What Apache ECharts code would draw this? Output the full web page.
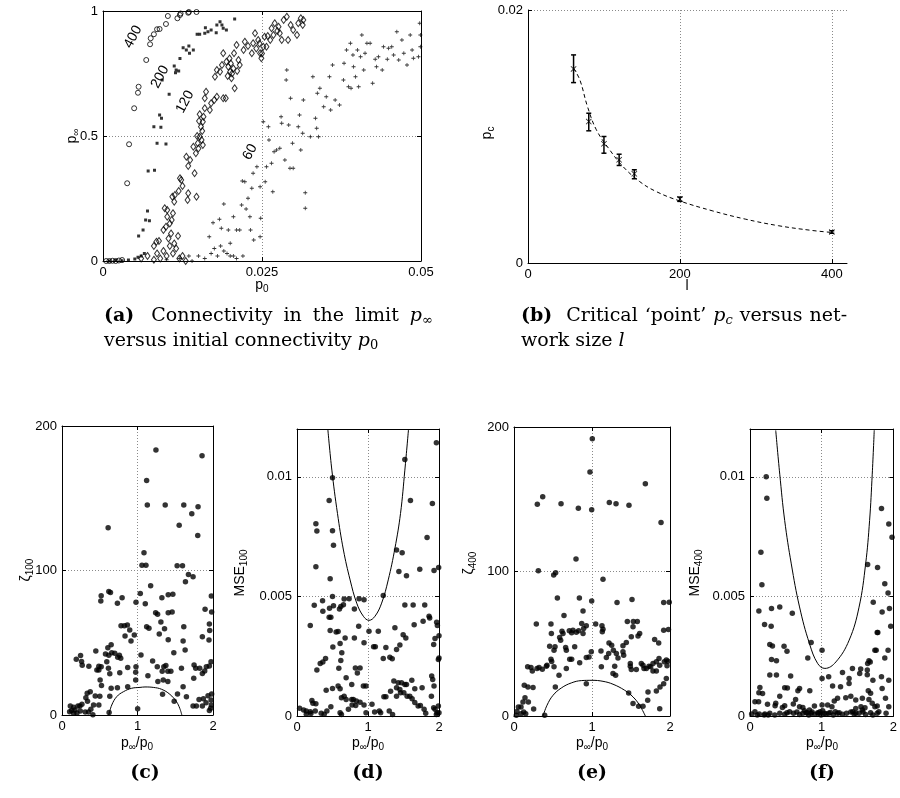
<!DOCTYPE html>
<html><head><meta charset="utf-8">
<script src="https://cdn.jsdelivr.net/npm/echarts@6/dist/echarts.min.js"></script>
<style>html,body{margin:0;padding:0;background:#fff}#c{width:900px;height:798px}</style>
</head><body><div id="c"></div>
<script>
// ---------- data (a): p_inf versus p0 for four network sizes ----------
const a400 = [[0.0005,0],[0.001,0],[0.0015,0.001],[0.002,0],[0.0025,0.002],[0.003,0.004],
[0.0038,0.311],[0.0041,0.467],[0.0049,0.611],[0.0055,0.673],[0.0056,0.697],[0.0068,0.804],[0.0074,0.867],[0.0075,0.891],[0.0080,0.907],[0.0085,0.927],[0.0089,0.928],[0.0099,0.948],[0.0102,0.98],[0.0117,0.971],[0.0121,0.984],[0.0122,0.99],[0.0134,0.993],[0.0135,0.996],[0.0147,0.996]];
const a200 = [[0.001,0],[0.002,0.002],[0.003,0.001],[0.004,0.004],[0.005,0.008],[0.0055,0.015],[0.006,0.02],[0.0065,0.03],
[0.0056,0.1],[0.0063,0.124],[0.0067,0.164],[0.0073,0.161],[0.0070,0.2],[0.0071,0.36],[0.0081,0.363],[0.0085,0.471],[0.0099,0.468],[0.0080,0.537],[0.0091,0.535],[0.0089,0.584],[0.0092,0.571],[0.0104,0.667],[0.0093,0.724],[0.0112,0.78],[0.0115,0.764],[0.0114,0.753],[0.0119,0.76],[0.0121,0.81],[0.0126,0.853],[0.0131,0.844],[0.0135,0.86],[0.0136,0.831],[0.0142,0.844],[0.0148,0.907],[0.0152,0.907],[0.016,0.911],[0.0161,0.933],[0.0165,0.917],[0.0170,0.924],[0.0178,0.913],[0.0179,0.944],[0.0184,0.957],[0.0187,0.944],[0.0189,0.931],[0.0194,0.924],[0.0207,0.968]];
const a120 = [[0.006,0.01],[0.007,0.02],[0.008,0.005],[0.0085,0.03],[0.009,0.01],[0.0095,0.04],[0.010,0.02],[0.0105,0.06],[0.011,0.03],[0.0115,0.05],[0.012,0.01],[0.0125,0.02],[0.013,0],[0.008,0.06],[0.0088,0.08],
[0.0084,0.077],[0.0095,0.124],[0.0099,0.137],[0.0101,0.177],[0.0097,0.211],[0.0101,0.204],[0.0108,0.164],[0.0110,0.191],[0.0112,0.237],[0.0113,0.264],[0.0109,0.257],[0.0121,0.331],[0.0123,0.324],[0.0131,0.417],[0.0137,0.404],[0.0134,0.38],[0.0134,0.271],[0.0133,0.244],[0.0144,0.351],[0.0147,0.257],[0.0142,0.457],[0.0146,0.431],[0.0149,0.471],[0.0152,0.497],[0.0155,0.484],[0.0157,0.464],[0.0154,0.537],[0.0157,0.557],[0.0158,0.577],[0.0152,0.587],[0.016,0.611],[0.0168,0.604],[0.017,0.631],[0.016,0.651],[0.0162,0.677],[0.0175,0.644],[0.0179,0.657],[0.0189,0.651],[0.0193,0.651],[0.0176,0.737],[0.0179,0.764],[0.0184,0.757],[0.0187,0.784],[0.0189,0.831],[0.0194,0.797],[0.0197,0.777],[0.02,0.757],[0.0202,0.731],[0.0207,0.691],[0.0206,0.831],[0.0213,0.804],[0.0215,0.784],[0.0221,0.844],[0.021,0.864],[0.0223,0.877],[0.0234,0.831],[0.0236,0.871],[0.0239,0.911],[0.0244,0.884],[0.0247,0.831],[0.0249,0.811],[0.0252,0.857],[0.0254,0.897],[0.0257,0.857],[0.0263,0.884],[0.0265,0.931],[0.027,0.951],[0.0276,0.937],[0.0278,0.911],[0.0284,0.964],[0.0289,0.977],[0.0291,0.884],[0.0295,0.944],[0.0299,0.924],[0.0305,0.904],[0.0307,0.951],[0.0311,0.971],[0.0315,0.964],[0.0314,0.944],[0.0281,0.884],[0.0268,0.904],
[0.0105,0.15],[0.0107,0.11],[0.0103,0.09],[0.0112,0.07],[0.0118,0.1],[0.0119,0.28],[0.0125,0.3],[0.0148,0.5],[0.015,0.45],[0.0156,0.52],[0.0151,0.56],[0.0196,0.74],[0.0201,0.79],[0.0199,0.81],[0.0205,0.77],[0.0203,0.75],[0.0211,0.76],[0.0228,0.86],[0.0241,0.85],[0.0246,0.87],[0.025,0.83],[0.0259,0.9],[0.0274,0.92]];
const a60 = [[0.01,0.005],[0.012,0.01],[0.014,0],[0.015,0.02],[0.016,0.01],[0.017,0.03],[0.018,0.02],[0.019,0.04],[0.02,0.02],[0.021,0.01],[0.0135,0.02],[0.0175,0.05],[0.0185,0.06],[0.0195,0.03],[0.0205,0.02],[0.022,0.02],
[0.0167,0.097],[0.0173,0.153],[0.0183,0.167],[0.0186,0.131],[0.019,0.228],[0.0197,0.124],[0.02,0.071],[0.0205,0.177],[0.021,0.124],[0.0215,0.124],[0.0218,0.224],[0.0219,0.32],[0.0223,0.317],[0.0225,0.208],[0.0228,0.251],[0.0231,0.177],[0.0232,0.124],[0.0234,0.291],[0.0236,0.351],[0.0237,0.084],[0.0242,0.377],[0.0247,0.297],[0.0248,0.171],[0.0247,0.097],[0.0252,0.557],[0.0255,0.317],[0.0257,0.377],[0.026,0.537],[0.0261,0.484],[0.0265,0.391],[0.0267,0.277],[0.0269,0.437],[0.0273,0.444],[0.0278,0.451],[0.028,0.577],[0.0281,0.551],[0.0286,0.404],[0.0288,0.724],[0.0289,0.764],[0.0292,0.544],[0.0294,0.371],[0.0295,0.651],[0.0298,0.471],[0.0299,0.371],[0.0307,0.537],[0.0309,0.584],[0.0311,0.444],[0.0314,0.511],[0.0318,0.273],[0.0318,0.211],[0.0315,0.644],[0.0326,0.497],[0.033,0.737],[0.0334,0.571],[0.0336,0.531],[0.0339,0.497],[0.0337,0.671],[0.0341,0.691],[0.0347,0.617],[0.0351,0.657],[0.0356,0.737],[0.0358,0.604],[0.0361,0.784],[0.0365,0.644],[0.0372,0.624],[0.0378,0.724],[0.0379,0.791],[0.0383,0.844],[0.0386,0.697],[0.0389,0.871],[0.039,0.691],[0.0393,0.824],[0.0394,0.777],[0.0397,0.737],[0.04,0.844],[0.0402,0.697],[0.0405,0.817],[0.0407,0.904],[0.041,0.764],[0.0412,0.831],[0.0415,0.871],[0.042,0.871],[0.0424,0.711],[0.0428,0.807],[0.043,0.777],[0.0433,0.817],[0.0439,0.764],[0.0441,0.857],[0.0447,0.807],[0.0449,0.851],[0.0454,0.857],[0.0457,0.824],[0.0462,0.917],[0.0465,0.804],[0.047,0.884],[0.0473,0.831],[0.0478,0.784],[0.0483,0.904],[0.0486,0.844],[0.0488,0.811],[0.0496,0.817],[0.0498,0.951],[0.0499,0.904],[0.0499,0.857]];
const aCurveLabels = ['400','200','120','60'];

// ---------- data (b): critical point versus network size ----------
const bSizes = [60, 80, 100, 120, 140, 200, 400];
const bPc    = [0.01534, 0.01118, 0.00942, 0.00816, 0.00705, 0.00505, 0.00245];
const bLow   = [0.01426, 0.01045, 0.00868, 0.00771, 0.00666, 0.00487, 0.00235];
const bHigh  = [0.01645, 0.01184, 0.01000, 0.00860, 0.00737, 0.00521, 0.00255];
const bFitX  = [60, 68.3, 78.3, 90, 107.5, 125, 146.7, 168.4, 199, 242.4, 286, 329.5, 373, 399];
const bFitY  = [0.01540, 0.01447, 0.01237, 0.01053, 0.00895, 0.00763, 0.00645, 0.00566, 0.00492, 0.00413, 0.00347, 0.00295, 0.00258, 0.00242];

// ---------- data (c) zeta_100 ----------
const cPts = [[1.244,183.4],[1.121,162.2],[1.855,179.4],[0.611,129.6],[1.13,145.3],[1.367,145.3],[1.613,145.3],[1.802,144.2],[1.719,139.3],[1.552,131.3],[1.798,124.3],[1.086,112.3],[1.059,103.6],[1.112,103.6],[1.525,103.3],[1.596,103.3],[1.675,97.3],[1.736,95.7],[1.635,92.3],[1.174,89.5],[0.519,82.6],[0.514,78.9],[0.62,85.4],[0.642,84.7],[0.796,81.2],[0.734,77.3],[0.98,78],[1.037,84],[1.103,77],[1.323,81.2],[1.407,83.3],[1.468,83.5],[1.978,82.4],[1.895,73.1],[1.982,71.3],[1.24,70.8],[1.266,69.7],[1.31,64.4],[1.288,56.1],[1.358,59.7],[1.121,61.1],[1.152,60],[1.407,70.8],[1.459,71.3],[1.613,61.1],[1.952,63],[1.956,58.4],[1.947,51.9],[1.859,54.2],[1.407,52.1],[1.604,51.2],[1.631,45],[1.481,43.1],[0.866,62.3],[0.897,58.8],[0.835,54.7],[0.914,51.2],[0.958,55.4],[0.782,61.8],[0.826,61.8],[0.651,48.7],[0.607,46.6],[0.659,43.1],[0.699,42.7],[0.738,39.9],[0.778,39.2],[0.76,41.3],[0.576,42.2],[0.62,41.3],[0.593,36.9],[0.448,44.3],[0.189,38.5],[0.246,41.1],[0.259,37.1],[0.268,34.4],[0.356,33.7],[0.488,33.7],[0.488,31.1],[0.519,33.4],[0.462,31.1],[0.505,24.2],[0.523,20.5],[0.615,32.3],[0.633,28.6],[0.87,32.8],[0.765,29.3],[0.98,33.4],[0.976,29.5],[0.976,24.2],[1.046,41.5],[1.138,27.2],[1.2,37.4],[1.262,33.4],[1.349,33.4],[1.376,34.3],[1.327,30.2],[1.402,30.2],[1.442,30.2],[1.341,24.2],[1.27,23.1],[1.402,23.1],[1.582,32.3],[1.749,34.6],[1.771,32.3],[1.824,32.3],[1.859,28.8],[1.912,33.4],[1.952,33.9],[1.974,36.9],[1.89,30.4],[1.745,25.4],[0.87,19.6],[0.734,18.9],[0.651,18.5],[0.633,12.9],[0.334,15],[0.374,16.1],[0.316,12],[0.338,9.5],[0.501,12.9],[0.44,13.1],[0.488,6.9],[0.624,1.8],[0.418,6.9],[0.154,5.3],[0.11,6.2],[0.127,3.2],[0.101,2.3],[0.171,3.5],[0.211,6.2],[0.237,6.2],[0.264,7.4],[0.242,2.8],[0.198,1.4],[0.308,2.1],[0.352,2.1],[0.382,3.9],[0.409,0.2],[0.154,1.2],[1.002,4.4],[1.332,14.3],[1.486,9.5],[1.53,14.5],[1.648,12.7],[1.815,10.8],[1.873,11.3],[1.934,13.4],[1.908,8.5],[1.978,6.9],[1.952,3.2],[1.969,4.6],[1.736,6.2],[1.78,6.2],[1.859,6.2],[1.974,10.4],[1.982,14.5],[1.604,19.6]];
const cArc = [[0.62,0],[0.659,6.9],[0.725,12.7],[0.813,16.1],[0.923,18.5],[1.033,19.1],[1.099,19.4],[1.209,19.1],[1.319,17.8],[1.429,14.3],[1.516,9.2],[1.56,4.6],[1.587,0]];

// ---------- data (d) MSE_100 ----------
const dPts = [[1.963,0.01142],[1.519,0.01072],[0.5,0.00996],[0.453,0.00901],[1.598,0.00901],[1.907,0.00889],[0.266,0.00804],[0.28,0.00774],[0.5,0.00775],[0.514,0.00714],[1.832,0.00746],[1.402,0.00694],[1.481,0.00683],[0.266,0.00624],[1.435,0.00604],[1.542,0.00586],[1.729,0.00614],[1.93,0.00608],[1.995,0.00621],[0.467,0.00574],[1.215,0.00504],[0.243,0.00463],[0.36,0.00482],[0.364,0.00438],[0.5,0.005],[0.514,0.00461],[0.458,0.00451],[0.598,0.00447],[0.617,0.00458],[0.664,0.00489],[0.734,0.0049],[0.654,0.00465],[0.808,0.00447],[0.874,0.0049],[0.944,0.00486],[0.187,0.00378],[0.453,0.00413],[0.477,0.00413],[0.467,0.00357],[0.551,0.00351],[0.579,0.00353],[0.607,0.00303],[0.678,0.00326],[0.505,0.00288],[0.808,0.00326],[0.869,0.00375],[0.944,0.00306],[1.014,0.00354],[1.145,0.00354],[1.079,0.0029],[1.103,0.0029],[1.252,0.00286],[1.379,0.00369],[1.519,0.00464],[1.636,0.00464],[1.799,0.00464],[1.65,0.00382],[1.776,0.00396],[1.86,0.00417],[1.869,0.0041],[1.967,0.00392],[1.977,0.00378],[1.533,0.00326],[1.495,0.0034],[1.449,0.00297],[1.402,0.00278],[1.925,0.00299],[1.944,0.00324],[2.0,0.00336],[1.308,0.00246],[1.341,0.00239],[1.215,0.0024],[0.28,0.00192],[0.327,0.00219],[0.364,0.00226],[0.402,0.0024],[0.5,0.00115],[0.589,0.002],[0.617,0.00232],[0.692,0.0016],[0.771,0.00132],[0.822,0.00201],[0.888,0.00201],[0.85,0.0018],[0.935,0.00125],[0.972,0.00125],[0.631,0.00264],[0.411,0.00108],[0.579,0.00125],[0.607,0.00114],[0.626,0.00076],[0.664,0.00083],[0.692,0.00069],[0.771,0.00069],[0.794,0.00069],[0.836,0.00063],[0.888,0.00058],[0.776,0.00046],[0.827,0.00044],[0.944,0.00046],[1.056,0.00049],[1.224,0.00081],[1.252,0.00081],[1.318,0.00104],[1.364,0.00146],[1.425,0.00139],[1.472,0.00139],[1.519,0.00132],[1.542,0.00132],[1.402,0.00118],[1.449,0.00111],[1.617,0.00149],[1.762,0.00118],[1.659,0.00114],[1.897,0.00167],[1.911,0.00153],[1.93,0.00125],[2.0,0.00243],[1.991,0.00236],[0.21,0.00065],[0.266,0.00051],[0.224,0.00053],[0.037,0.00032],[0.093,0.00025],[0.131,0.00021],[0.187,0.00018],[0.257,0.00021],[0.131,0.00007],[0.196,0.0001],[0.341,0.00011],[0.383,0.00007],[0.421,0.00021],[0.477,0.00039],[0.607,0.00014],[0.626,0.00006],[0.724,0.00028],[1.093,0.00017],[1.159,0.00021],[1.178,0.00014],[1.299,0.00021],[1.346,0.00006],[1.402,0.00083],[1.458,0.00097],[1.505,0.00097],[1.551,0.00083],[1.589,0.00083],[1.621,0.00072],[1.659,0.00056],[1.706,0.00042],[1.738,0.00044],[1.79,0.00028],[1.813,0.00011],[1.893,0.00083],[1.925,0.00035],[1.944,0.00028],[1.972,0.00014],[1.991,0.00042],[2.0,0.00014],[1.963,0.00006],[0.972,0.00014]];
const dCurve = [[0.435,0.01197],[0.491,0.01028],[0.57,0.00847],[0.654,0.00694],[0.748,0.00569],[0.841,0.00472],[0.935,0.00417],[1.014,0.004],[1.098,0.00417],[1.192,0.00472],[1.285,0.00569],[1.379,0.00701],[1.458,0.00847],[1.519,0.01028],[1.57,0.01197]];

// ---------- data (e) zeta_400 ----------
const ePts = [[1.004,191.9],[0.974,168.8],[1.684,160.7],[0.368,151.7],[0.299,146.6],[0.603,146.8],[0.825,143.8],[0.996,142.7],[1.222,147.7],[1.308,146.8],[1.474,145.9],[1.885,133.9],[0.795,108.7],[0.312,100.6],[0.509,97.6],[0.534,99.2],[1.141,94.6],[0.556,81.6],[0.838,81.6],[0.996,79.5],[1.321,78.6],[1.513,80.7],[1.919,78.6],[1.99,78.8],[1.98,59.8],[0.286,63.6],[0.474,63.6],[0.479,57.1],[0.641,69.6],[0.615,58.7],[0.628,57.1],[0.598,52.5],[0.585,54.3],[0.709,59],[0.739,57.6],[0.756,59.4],[0.799,58],[0.829,59],[0.868,64],[0.885,72.6],[0.893,60.6],[0.885,57.1],[0.927,62.4],[1.047,63.6],[1.128,62.4],[1.141,60.1],[1.132,58.3],[1.453,65.4],[1.53,65.4],[1.581,65.4],[1.526,61.7],[1.611,57.1],[1.59,55.3],[1.504,54.8],[1.44,50.9],[1.397,48.6],[1.218,50.6],[1.252,49],[1.274,45.5],[1.312,43.2],[1.115,44.9],[0.991,44.4],[0.962,40.9],[0.927,40.5],[0.778,47.9],[0.842,36.8],[0.671,45.5],[0.662,47.4],[0.526,47.9],[0.513,45.5],[0.457,48.3],[0.474,39.3],[0.483,37.7],[0.423,35.1],[0.415,34.4],[0.363,32.4],[0.295,32.8],[0.321,33.5],[0.235,31.2],[0.175,34],[0.218,33.5],[0.513,34],[0.577,28.2],[0.671,32.8],[0.714,39.3],[0.739,39.3],[0.53,20.1],[0.927,22.4],[1.12,34],[1.184,40.5],[1.214,43.2],[1.291,34.5],[1.303,28.2],[1.269,29.4],[1.333,40.2],[1.397,44.4],[1.406,42.1],[1.491,36.3],[1.491,34.5],[1.504,32.1],[1.568,32.1],[1.632,36.3],[1.654,35.1],[1.667,32.8],[1.697,32.8],[1.731,34.4],[1.752,34],[1.782,36.3],[1.825,37.5],[1.859,39.8],[1.782,31.2],[1.825,31.2],[1.868,35.1],[1.927,37.5],[1.974,37.9],[1.803,52.9],[1.855,50.6],[1.919,59.4],[1.953,38.8],[1.953,25.9],[1.919,22.4],[1.962,34.7],[1.825,17.3],[1.872,20.1],[1.714,10.9],[1.654,6.7],[1.598,6.7],[1.526,8.6],[1.718,16.6],[1.47,16],[1.868,5.1],[0.132,21.3],[0.179,20.1],[0.244,19.7],[0.141,12.7],[0.184,9.7],[0.115,9.7],[0.09,6.2],[0.056,6.2],[0.038,3.2],[0.09,1.6],[0.15,1.6],[0.03,0.5],[0.124,2.8],[0.252,4.9],[0.393,0.5]];
const eArc = [[0.372,0],[0.423,7.4],[0.5,14.3],[0.607,19.4],[0.735,22.9],[0.863,24.5],[1.0,24.7],[1.141,24],[1.269,22],[1.419,17.8],[1.526,13.2],[1.611,7.4],[1.684,0]];

// ---------- data (f) MSE_400 ----------
const fPts = [[0.226,0.01],[0.235,0.0091],[0.152,0.00685],[0.166,0.00549],[0.124,0.00439],[0.3,0.00449],[0.415,0.00456],[0.203,0.00383],[0.295,0.00375],[0.59,0.0043],[0.276,0.00299],[0.313,0.00293],[0.475,0.00292],[0.516,0.00271],[0.853,0.00307],[0.806,0.00243],[1.005,0.00275],[0.3,0.00236],[0.369,0.00231],[0.276,0.00171],[0.369,0.00171],[0.567,0.00167],[0.138,0.00119],[0.124,0.00097],[0.175,0.00094],[0.484,0.00118],[0.521,0.00117],[0.668,0.00106],[0.691,0.00115],[0.834,0.00106],[0.415,0.00083],[0.359,0.00053],[0.35,0.00043],[0.244,0.00049],[0.069,0.0006],[0.12,0.0006],[0.069,0.00018],[0.129,0.00008],[0.207,0.00008],[0.253,0.00004],[0.484,0.00043],[0.452,0.00036],[0.604,0.0005],[0.636,0.00069],[0.553,0.00018],[0.516,0.00014],[0.691,0.00039],[0.737,0.00036],[0.76,0.00022],[0.797,0.00014],[0.829,0.00025],[0.853,0.00011],[0.899,0.00042],[1.005,0.00046],[0.954,0.00011],[0.977,0.00018],[1.014,0.00022],[1.037,0.00011],[1.005,0.00157],[1.097,0.00164],[1.152,0.00125],[1.083,0.00046],[1.143,0.00039],[1.175,0.00063],[1.221,0.00074],[1.097,0.00011],[1.189,0.00018],[1.244,0.00014],[1.263,0.00122],[1.29,0.00182],[1.336,0.00076],[1.406,0.00083],[1.382,0.00157],[1.382,0.00136],[1.433,0.00018],[1.475,0.00031],[1.429,0.00199],[1.53,0.00178],[1.544,0.00197],[1.475,0.00067],[1.548,0.00039],[1.567,0.00025],[1.604,0.00035],[1.641,0.00219],[1.659,0.00231],[1.636,0.00172],[1.65,0.00106],[1.641,0.00633],[1.779,0.00621],[1.719,0.00476],[1.774,0.00349],[1.742,0.00275],[1.714,0.0015],[1.659,0.00069],[1.705,0.00053],[1.774,0.00042],[1.475,0.00011],
[1.834,0.00868],[1.936,0.00803],[1.981,0.00747],[1.88,0.00553],[1.926,0.00514],[1.843,0.00435],[1.945,0.00449],[1.963,0.00375],[1.783,0.00349],[1.926,0.00275],[1.88,0.00243],[1.76,0.00275],[1.677,0.00226],[1.636,0.00192],[1.834,0.00164],[1.936,0.0015],[1.89,0.00074],[1.843,0.00115],[1.936,0.00039],[1.797,0.00018],[1.898,0.00011],[1.742,0.00039],[1.682,0.00095],[1.567,0.00074],
[0.023,0.00008],[0.101,0.00004],[0.198,0.00004],[0.276,0.00011],[0.346,0.00004],[0.415,0.00011],[0.484,0.00007],[0.608,0.00011],[0.654,0.00017],[0.691,0.00006],[0.737,0.00011],[0.783,0.00014],[0.82,0.00004],[0.866,0.00017],[0.903,0.00007],[0.945,0.00014],[0.991,0.00004],[1.06,0.00008],[1.12,0.00015],[1.161,0.00004],[1.221,0.00011],[1.29,0.00007],[1.346,0.00011],[1.406,0.00017],[1.452,0.00008],[1.521,0.00011],[1.576,0.00017],[1.613,0.00006],[1.682,0.00014],[1.714,0.00004],[1.774,0.00011]];
const fCurve = [[0.359,0.01194],[0.415,0.01011],[0.484,0.00817],[0.576,0.00636],[0.691,0.00456],[0.829,0.00303],[0.945,0.00219],[1.045,0.00199],[1.198,0.00226],[1.383,0.00317],[1.521,0.00455],[1.613,0.00636],[1.668,0.00817],[1.705,0.01011],[1.733,0.01195]];

// ---------- build ----------
const SANS = 'Liberation Sans';
const SERIF = 'DejaVu Serif';
const grids = [], xAxes = [], yAxes = [];
function axis(gi, pos, r, main, extra) {
  const a = {
    type: 'value', gridIndex: gi, position: pos, min: r[0], max: r[1], interval: r[2],
    axisLine: { show: true, onZero: false, lineStyle: { color: '#000', width: 1 } },
    axisTick: { show: true, inside: true, length: 4, lineStyle: { color: '#000', width: 1 } },
    axisLabel: { show: main, color: '#000', fontFamily: SANS, fontSize: 13, margin: 5 },
    splitLine: { show: main, lineStyle: { color: '#8a8a8a', width: 1, type: [1, 2] } }
  };
  if (extra) {
    if (extra.label) Object.assign(a.axisLabel, extra.label);
    if (extra.split) Object.assign(a.splitLine, extra.split);
  }
  return a;
}
function panel(g, xr, yr, box, ex, ey) {
  const gi = grids.length; grids.push(Object.assign({ containLabel: false }, g));
  const xi = xAxes.length; xAxes.push(axis(gi, 'bottom', xr, true, ex));
  const yi = yAxes.length; yAxes.push(axis(gi, 'left', yr, true, ey));
  if (box) { xAxes.push(axis(gi, 'top', xr, false)); yAxes.push(axis(gi, 'right', yr, false)); }
  return { xi, yi };
}
const PA = panel({ left: 103, top: 11, width: 318, height: 250 }, [0, 0.05, 0.025], [0, 1, 0.5], true);
const PB = panel({ left: 528, top: 10, width: 319, height: 253 }, [0, 420, 200], [0, 0.02, 0.02], false,
  { label: { showMaxLabel: false }, split: { showMaxLine: false } });
const PC = panel({ left: 62, top: 426, width: 151, height: 289 }, [0, 2, 1], [0, 200, 100], true);
const PD = panel({ left: 297, top: 429, width: 142, height: 287 }, [0, 2, 1], [0, 0.012, 0.005], true, null,
  { label: { showMaxLabel: false } });
const PE = panel({ left: 514, top: 427, width: 156, height: 289 }, [0, 2, 1], [0, 200, 100], true);
const PF = panel({ left: 750, top: 429, width: 144, height: 287 }, [0, 2, 1], [0, 0.012, 0.005], true, null,
  { label: { showMaxLabel: false } });

const hollow = { color: 'rgba(0,0,0,0)', borderColor: '#000', borderWidth: 1 };
const plusSym = 'path://M4,0H6V4H10V6H6V10H4V6H0V4H4Z';
const xSym = 'path://M1,0L5,4L9,0L10,1L6,5L10,9L9,10L5,6L1,10L0,9L4,5L0,1Z';
function dots(P, data) {
  return { type: 'scatter', xAxisIndex: P.xi, yAxisIndex: P.yi, data: data, symbol: 'circle', symbolSize: 5.5,
    itemStyle: { color: '#000' }, silent: true, animation: false };
}
function curve(P, data, extra) {
  return Object.assign({ type: 'line', xAxisIndex: P.xi, yAxisIndex: P.yi, data: data, smooth: 0.4, showSymbol: false,
    symbol: 'none', lineStyle: { color: '#000', width: 1 }, silent: true, animation: false }, extra || {});
}

const series = [
  { type: 'scatter', xAxisIndex: PA.xi, yAxisIndex: PA.yi, data: a60, symbol: plusSym, symbolSize: 4, itemStyle: { color: '#000' }, animation: false },
  { type: 'scatter', xAxisIndex: PA.xi, yAxisIndex: PA.yi, data: a120, symbol: 'diamond', symbolSize: [5, 7], itemStyle: hollow, animation: false },
  { type: 'scatter', xAxisIndex: PA.xi, yAxisIndex: PA.yi, data: a200, symbol: 'rect', symbolSize: 3, itemStyle: { color: '#000' }, animation: false },
  { type: 'scatter', xAxisIndex: PA.xi, yAxisIndex: PA.yi, data: a400, symbol: 'circle', symbolSize: 5, itemStyle: hollow, animation: false },
  curve(PB, bFitX.map((x, i) => [x, bFitY[i]]), { lineStyle: { color: '#000', width: 1, type: [4, 3] } }),
  { type: 'custom', xAxisIndex: PB.xi, yAxisIndex: PB.yi, animation: false,
    data: bSizes.map((s, i) => [s, bLow[i], bHigh[i]]),
    renderItem: function (params, api) {
      const x = api.value(0);
      const lo = api.coord([x, api.value(1)]), hi = api.coord([x, api.value(2)]);
      const w = 2.5, st = { stroke: '#000', lineWidth: 1.5 };
      return { type: 'group', children: [
        { type: 'line', shape: { x1: lo[0], y1: lo[1], x2: hi[0], y2: hi[1] }, style: st },
        { type: 'line', shape: { x1: lo[0] - w, y1: lo[1], x2: lo[0] + w, y2: lo[1] }, style: st },
        { type: 'line', shape: { x1: hi[0] - w, y1: hi[1], x2: hi[0] + w, y2: hi[1] }, style: st }
      ] };
    } },
  { type: 'scatter', xAxisIndex: PB.xi, yAxisIndex: PB.yi, data: bSizes.map((s, i) => [s, bPc[i]]), symbol: xSym, symbolSize: 6, itemStyle: { color: '#000' }, animation: false },
  dots(PC, cPts), curve(PC, cArc),
  dots(PD, dPts), curve(PD, dCurve),
  dots(PE, ePts), curve(PE, eArc),
  dots(PF, fPts), curve(PF, fCurve)
];

const labRich = {
  n: { fontFamily: SANS, fontSize: 14, fill: '#000' },
  s: { fontFamily: SANS, fontSize: 10, padding: [9, 0, 0, 0] }
};
function txt(x, y, text, opts) {
  return Object.assign({ type: 'text', x: x, y: y, silent: true,
    style: Object.assign({ text: text, fill: '#000', font: '14px "' + SANS + '"', align: 'center', verticalAlign: 'middle', rich: labRich }, (opts && opts.style) || {}) },
    opts && opts.rotation !== undefined ? { rotation: opts.rotation } : {});
}
const R90 = Math.PI / 2, R60 = Math.PI * 62 / 180;
const capRich = {
  b: { fontFamily: SERIF, fontWeight: 'bold', fontSize: 19 },
  r: { fontFamily: SERIF, fontSize: 19 },
  i: { fontFamily: SERIF, fontStyle: 'italic', fontSize: 19 },
  s: { fontFamily: SERIF, fontSize: 13, padding: [9, 0, 0, 0] },
  si: { fontFamily: SERIF, fontStyle: 'italic', fontSize: 13, padding: [9, 0, 0, 0] },
  g1: { width: 17 }, ga: { width: 11 }, g2: { width: 14 }, gb: { width: 7 }
};
function cap(x, y, text, align) {
  return { type: 'text', x: x, y: y, silent: true,
    style: { text: text, fill: '#000', font: '19px "' + SERIF + '"', align: align || 'left', verticalAlign: 'middle', rich: capRich } };
}
const graphics = [
  // (a) axis names and curve labels
  txt(262, 285, '{n|p}{s|0}'),
  txt(72, 136, '{n|p}{s|∞}', { rotation: R90 }),
  txt(133, 37, aCurveLabels[0], { rotation: R60, style: { font: '14px "' + SANS + '"' } }),
  txt(160, 77, aCurveLabels[1], { rotation: R60, style: { font: '14px "' + SANS + '"' } }),
  txt(185, 102, aCurveLabels[2], { rotation: R60, style: { font: '14px "' + SANS + '"' } }),
  txt(250, 152, aCurveLabels[3], { rotation: R60, style: { font: '14px "' + SANS + '"' } }),
  // (b)
  txt(687, 286, 'l'),
  txt(487, 133, '{n|p}{s|c}', { rotation: R90 }),
  // (c)-(f)
  txt(137, 743, '{n|p}{s|∞}{n|/p}{s|0}'),
  txt(368, 743, '{n|p}{s|∞}{n|/p}{s|0}'),
  txt(592, 743, '{n|p}{s|∞}{n|/p}{s|0}'),
  txt(822, 743, '{n|p}{s|∞}{n|/p}{s|0}'),
  txt(26, 570, '{n|ζ}{s|100}', { rotation: R90 }),
  txt(240, 573, '{n|MSE}{s|100}', { rotation: R90 }),
  txt(469, 563, '{n|ζ}{s|400}', { rotation: R90 }),
  txt(695, 573, '{n|MSE}{s|400}', { rotation: R90 }),
  // captions (justified first lines)
  cap(104, 316, '{b|(a)}{g1| }{r|Connectivity}{ga| }{r|in}{ga| }{r|the}{ga| }{r|limit}{ga| }{i|p}{s|∞}'),
  cap(104, 341, '{r|versus initial connectivity }{i|p}{s|0}'),
  cap(521, 316, '{b|(b)}{g2| }{r|Critical}{gb| }{r|‘point’}{gb| }{i|p}{si|c}{gb| }{r|versus}{gb| }{r|net-}'),
  cap(521, 341, '{r|work size }{i|l}'),
  cap(145, 773, '{b|(c)}', 'center'),
  cap(368, 773, '{b|(d)}', 'center'),
  cap(592, 773, '{b|(e)}', 'center'),
  cap(822, 773, '{b|(f)}', 'center')
];

const chart = echarts.init(document.getElementById('c'), null, { renderer: 'canvas' });
chart.setOption({
  backgroundColor: '#fff', animation: false,
  grid: grids, xAxis: xAxes, yAxis: yAxes, series: series, graphic: graphics
});
</script></body></html>
